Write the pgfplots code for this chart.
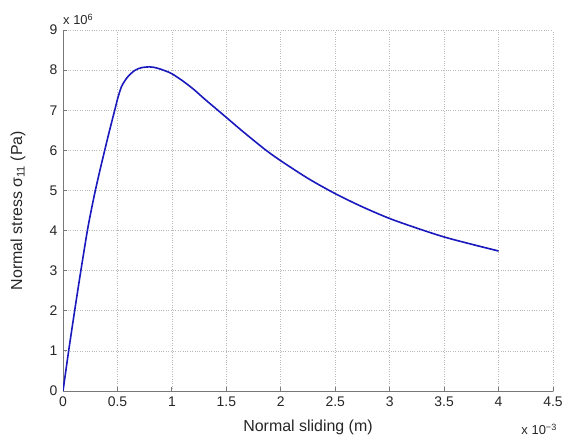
\documentclass[border=0pt]{standalone}
\usepackage{fontspec}
\setmainfont{Liberation Sans}
\usepackage{pgfplots}
\pgfplotsset{compat=1.18}
\definecolor{curveblue}{RGB}{25,25,190}
\definecolor{axgray}{RGB}{120,120,120}
\begin{document}
\begin{tikzpicture}
    \begin{axis}[
        name=ax,
        scale only axis,
        width=490bp, height=361bp,
        xmin=0, xmax=4.5,
        ymin=0, ymax=9,
        xtick={0,0.5,1,1.5,2,2.5,3,3.5,4,4.5},
        xticklabels={0,0.5,1,1.5,2,2.5,3,3.5,4,4.5},
        ytick={0,1,2,3,4,5,6,7,8,9},
        axis x line*=bottom,
        axis y line*=left,
        axis line style={axgray, line width=0.8bp, -},
        tick align=inside,
        major tick length=4bp,
        every tick/.style={axgray, line width=0.8bp},
        grid=major,
        major grid style={gray!55, dotted, line width=0.7bp},
        /pgf/number format/assume math mode=true,
        tick label style={font=\fontsize{14}{16}\selectfont, text=black!85},
        xticklabel style={yshift=-2bp},
        yticklabel style={xshift=-2bp},
        xlabel={Normal sliding (m)},
        ylabel={Normal stress σ\textsubscript{11} (Pa)},
        x label style={at={(rel axis cs:0.5,0)}, anchor=base, yshift=-41bp,
            font=\fontsize{16}{19}\selectfont, text=black!85},
        y label style={at={(rel axis cs:0,0.5)}, anchor=center, yshift=45bp,
            font=\fontsize{16}{19}\selectfont, text=black!85},
    ]
    % normal stress (x 10^6 Pa) vs normal sliding (x 10^-3 m)
    \addplot[color=curveblue, line width=1.6bp, smooth, tension=0.5] coordinates {
        (0,0) (0.052,1.0) (0.107,2.0) (0.164,3.0) (0.224,4.0)
        (0.259,4.5) (0.297,5.0) (0.339,5.5) (0.383,6.0) (0.428,6.5)
        (0.475,7.0) (0.503,7.3) (0.536,7.58) (0.565,7.72) (0.597,7.84)
        (0.658,7.99) (0.72,8.06) (0.796,8.08) (0.85,8.06)
        (0.9,8.02) (0.95,7.97) (1.0,7.91) (1.1,7.73) (1.2,7.52)
        (1.3,7.28) (1.4,7.05) (1.5,6.82) (1.625,6.53) (1.75,6.25)
        (1.875,5.98) (2.0,5.74) (2.25,5.30) (2.5,4.92)
        (2.75,4.59) (3.0,4.30) (3.25,4.06) (3.5,3.84) (3.75,3.66) (4.0,3.49)
    };
    \end{axis}
    \node[anchor=base west, font=\fontsize{13}{15}\selectfont, text=black!85, inner sep=0pt]
        at ([yshift=5bp]ax.north west) {x 10\textsuperscript{6}};
    \node[anchor=base east, font=\fontsize{13}{15}\selectfont, text=black!85, inner sep=0pt]
        at ([xshift=4bp, yshift=-44bp]ax.south east) {x 10\textsuperscript{−3}};
    \pgfresetboundingbox
    \path[use as bounding box] ([xshift=-63bp, yshift=-47bp]ax.south west) rectangle ([xshift=18bp, yshift=30bp]ax.north east);
\end{tikzpicture}
\end{document}
